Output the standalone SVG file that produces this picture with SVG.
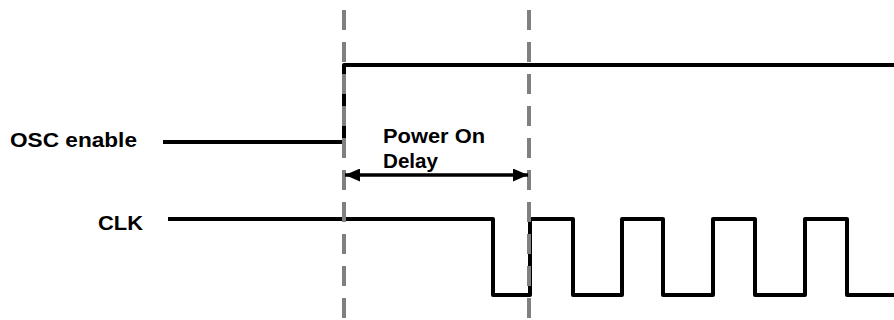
<svg xmlns="http://www.w3.org/2000/svg" width="894" height="320" viewBox="0 0 894 320">
  <defs>
    <style>
      .wave { fill: none; stroke: #000; stroke-width: 4; stroke-linejoin: round; }
      .guide { fill: none; stroke: #808080; stroke-width: 4; stroke-dasharray: 20 12; }
      .lbl { font-family: "Liberation Sans", Arial, sans-serif; font-weight: bold; font-size: 20px; fill: #000; }
    </style>
    <marker id="ah" viewBox="0 0 15 13" refX="15" refY="6.5" markerWidth="15" markerHeight="13" markerUnits="userSpaceOnUse" orient="auto-start-reverse">
      <path d="M0,0 L15,6.5 L0,13 Z" fill="#000"/>
    </marker>
  </defs>
  <rect width="894" height="320" fill="#fff"/>

  <g id="osc-enable">
    <text class="lbl" x="10" y="147" textLength="127" lengthAdjust="spacingAndGlyphs">OSC enable</text>
    <polyline class="wave" points="163,142 344,142 344,65 894,65"/>
  </g>

  <g id="clk">
    <text class="lbl" x="98" y="230" textLength="45" lengthAdjust="spacingAndGlyphs">CLK</text>
    <polyline class="wave" points="168,219 493,219 493,295 530,295 530,219 573,219 573,295 622,295 622,219 663,219 663,295 713,295 713,219 755,219 755,295 805,295 805,219 847,219 847,295 894,295"/>
  </g>

  <g id="guides">
    <line class="guide" x1="344" y1="10" x2="344" y2="320"/>
    <line class="guide" x1="529" y1="10" x2="529" y2="320"/>
  </g>

  <g id="connectors">
    <line x1="345" y1="175" x2="528" y2="175" stroke="#000" stroke-width="3.5" marker-start="url(#ah)" marker-end="url(#ah)"/>
  </g>

  <g id="power-on-delay">
    <text class="lbl" x="383" y="143" textLength="102" lengthAdjust="spacingAndGlyphs">Power On</text>
    <text class="lbl" x="383" y="168" textLength="55" lengthAdjust="spacingAndGlyphs">Delay</text>
  </g>
</svg>
